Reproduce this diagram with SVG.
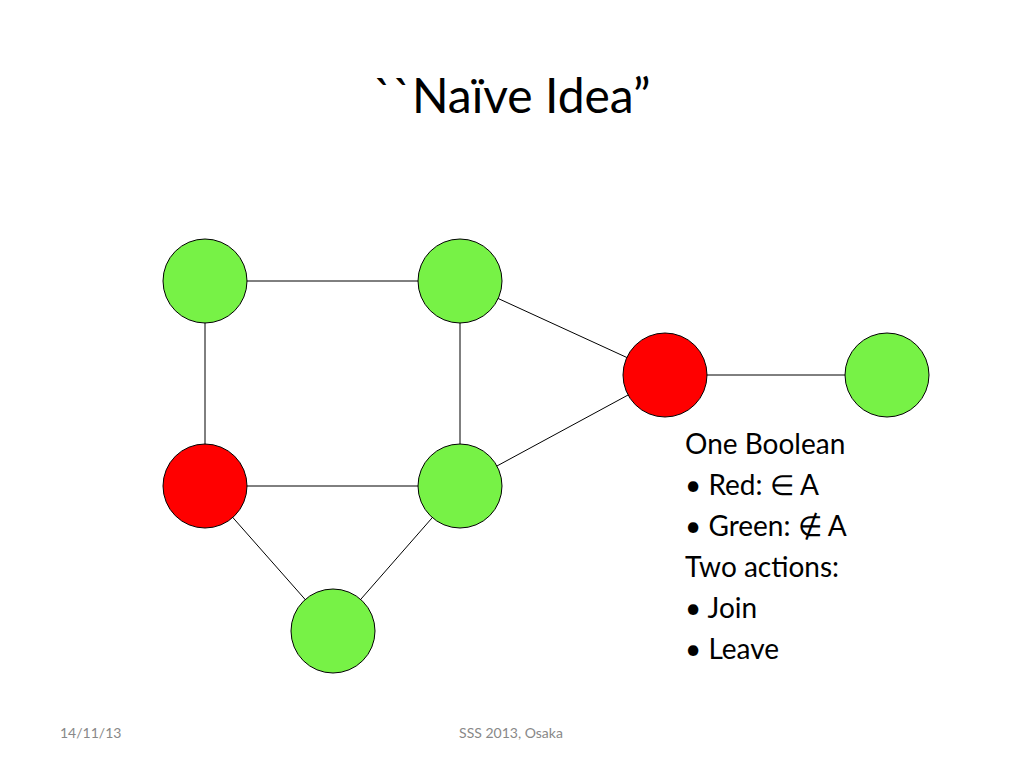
<svg xmlns="http://www.w3.org/2000/svg" width="1024" height="768" viewBox="0 0 1024 768">
<style>
.g{fill:#77f246;stroke:#000;stroke-width:1}
.r{fill:#ff0000;stroke:#000;stroke-width:1}
.e{stroke:#000;stroke-width:1}
text{font-family:Lato,"Open Sans",sans-serif;fill:#000}
.b{font-size:28px}
.f{font-size:14px;fill:#888}
</style>
<rect width="1024" height="768" fill="#fff"/>
<text x="512" y="113" font-size="48" text-anchor="middle">``Naïve Idea”</text>
<g id="connectors">
<line class="e" x1="205" y1="281" x2="460" y2="281"/>
<line class="e" x1="205" y1="281" x2="205" y2="486"/>
<line class="e" x1="460" y1="281" x2="460" y2="486"/>
<line class="e" x1="460" y1="281" x2="665" y2="375"/>
<line class="e" x1="665" y1="375" x2="887" y2="375"/>
<line class="e" x1="665" y1="375" x2="460" y2="486"/>
<line class="e" x1="205" y1="486" x2="460" y2="486"/>
<line class="e" x1="205" y1="486" x2="333" y2="631"/>
<line class="e" x1="460" y1="486" x2="333" y2="631"/>
</g>
<g id="n1"><circle class="g" cx="205" cy="281" r="42"/></g>
<g id="n2"><circle class="g" cx="460" cy="281" r="42"/></g>
<g id="n3"><circle class="r" cx="665" cy="375" r="42"/></g>
<g id="n4"><circle class="g" cx="887" cy="375" r="42"/></g>
<g id="n5"><circle class="r" cx="205" cy="486" r="42"/></g>
<g id="n6"><circle class="g" cx="460" cy="486" r="42"/></g>
<g id="n7"><circle class="g" cx="333" cy="631" r="42"/></g>
<g id="legend">
<text class="b" x="685" y="454">One Boolean</text>
<text class="b" x="685" y="495">• Red: ∈ A</text>
<text class="b" x="685" y="536">• Green: ∉ A</text>
<text class="b" x="685" y="577">Two actions:</text>
<text class="b" x="685" y="618">• Join</text>
<text class="b" x="685" y="659">• Leave</text>
</g>
<text class="f" x="60" y="738">14/11/13</text>
<text class="f" x="511" y="738" text-anchor="middle">SSS 2013, Osaka</text>
</svg>
